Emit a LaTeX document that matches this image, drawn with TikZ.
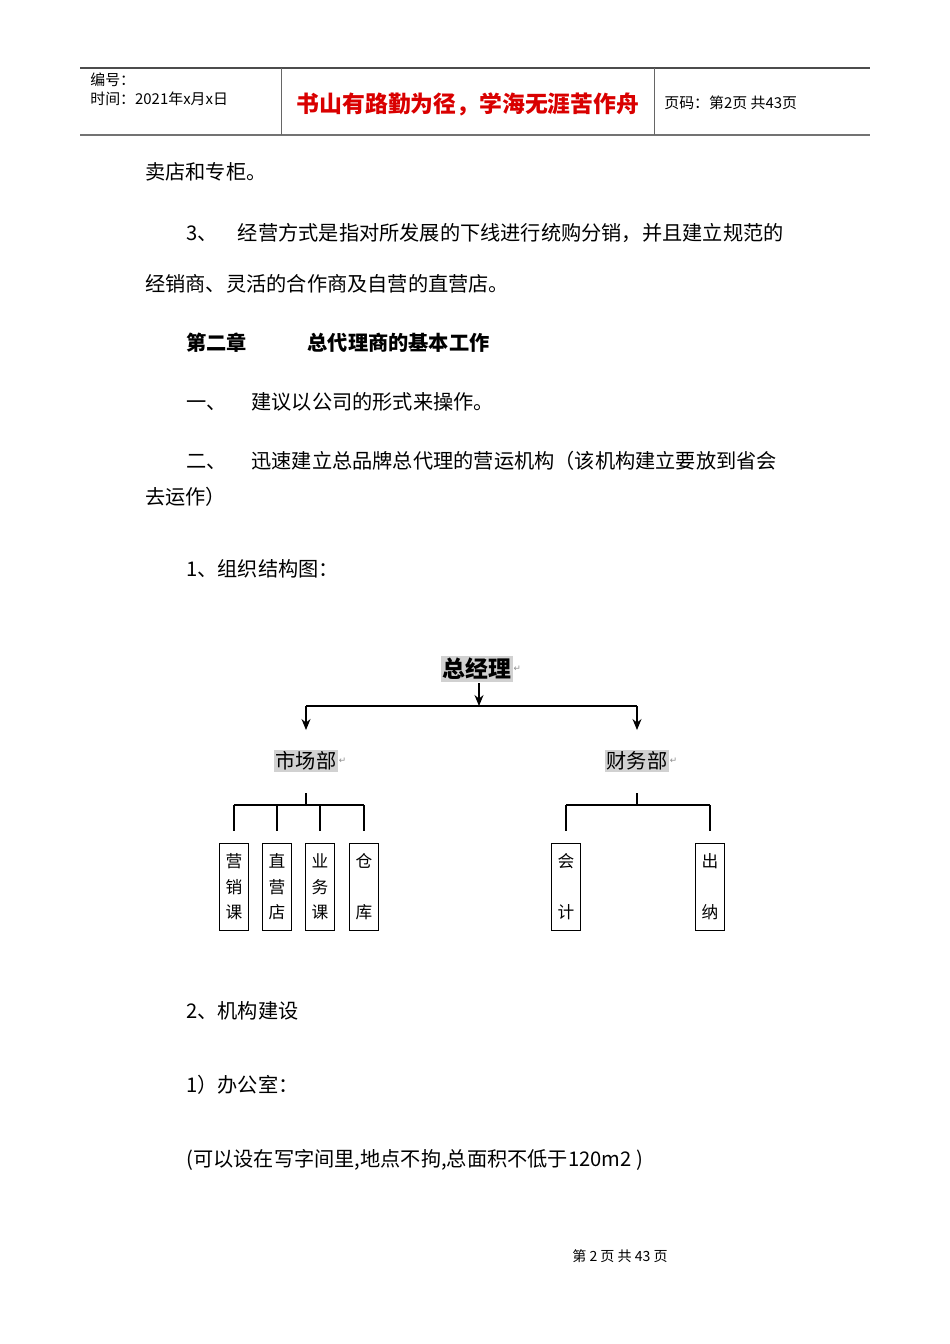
\documentclass[tikz,border=0pt]{standalone}
\usepackage{fontspec}
\setmainfont{Noto Sans CJK SC}
\newfontfamily\symfont{DejaVu Sans}
\usetikzlibrary{arrows.meta}
\tikzset{
  body/.style={anchor=west, font=\fontsize{11.5}{14}\selectfont, inner sep=0pt},
  head/.style={anchor=west, font=\fontsize{8.5}{10}\selectfont, inner sep=0pt},
  dept/.style={fill=black!18, inner sep=1pt, font=\fontsize{11.5}{14}\selectfont},
  unitbox/.style={draw, line width=0.6pt, minimum width=5.8mm, minimum height=17.4mm,
    inner sep=0pt, align=center, font=\fontsize{9.5}{14.5}\selectfont},
  link/.style={line width=0.6pt},
  down/.style={link, -{Stealth[length=2.2mm,width=1.8mm]}},
}
\newcommand{\ret}{{\color{black!45}\symfont\fontsize{5}{5}\selectfont ↵}}
\begin{document}
\begin{tikzpicture}[x=0.2mm,y=-0.2mm]
\useasboundingbox (0,0) rectangle (950,1344);

% header table
\draw[line width=0.6pt, black!70] (80,68) -- (870,68);
\draw[line width=1.4pt, black!55] (80,135) -- (870,135);
\draw[line width=0.5pt, black!60] (281,68) -- (281,135) (654,68) -- (654,135);
\node[head] (no) at (90,80) {编号：};
\node[head] (date) at (90,99) {时间：2021年x月x日};
\node[font=\fontsize{13}{15}\selectfont\bfseries, text=red!85!black, inner sep=0pt] (motto) at (468,104) {书山有路勤为径，学海无涯苦作舟};
\node[head] (page) at (664,103) {页码：第2页\ 共43页};

% text above the chart
\node[body] (t1) at (145,172) {卖店和专柜。};
\node[body] (t2) at (186,233) {3、\quad 经营方式是指对所发展的下线进行统购分销，并且建立规范的};
\node[body] (t3) at (145,284) {经销商、灵活的合作商及自营的直营店。};
\node[body, font=\fontsize{11.5}{14}\selectfont\bfseries] (t4) at (186,343) {第二章\qquad\quad 总代理商的基本工作};
\node[body] (t5) at (186,402) {一、\quad\ 建议以公司的形式来操作。};
\node[body] (t6) at (186,461) {二、\quad\ 迅速建立总品牌总代理的营运机构（该机构建立要放到省会};
\node[body] (t7) at (145,497) {去运作）};
\node[body] (t8) at (186,569) {1、组织结构图：};

% chart
\node[dept, font=\fontsize{13}{15}\selectfont\bfseries] (gm) at (477,669) {总经理};
\node[anchor=west, inner sep=0pt] at (gm.east) {\ret};
\node[dept] (mkt) at (306,761) {市场部};
\node[anchor=west, inner sep=0pt] at (mkt.east) {\ret};
\node[dept] (fin) at (637,761) {财务部};
\node[anchor=west, inner sep=0pt] at (fin.east) {\ret};

\coordinate (split) at (479,706);
\coordinate (gmfoot) at (479,683);
\coordinate (lsplit) at (306,706);
\coordinate (rsplit) at (637,706);
\draw[down] (gmfoot) -- (split);
\draw[link] (lsplit) -- (rsplit);
\draw[down] (lsplit) -- (306,730);
\draw[down] (rsplit) -- (637,730);

\node[unitbox] (u1) at (234,887) {营\\销\\课};
\node[unitbox] (u2) at (277,887) {直\\营\\店};
\node[unitbox] (u3) at (320,887) {业\\务\\课};
\node[unitbox] (u4) at (364,887) {仓\\ \\库};
\node[unitbox] (u5) at (566,887) {会\\ \\计};
\node[unitbox] (u6) at (710,887) {出\\ \\纳};

\draw[link] (mkt.south |- 0,793) -- (306,805);
\draw[link] (234,805) -- (364,805);
\foreach \u in {u1,u2,u3,u4}
  \draw[link] (\u.north |- 0,805) -- (\u.north |- 0,831);
\draw[link] (fin.south |- 0,793) -- (637,805);
\draw[link] (566,805) -- (710,805);
\foreach \u in {u5,u6}
  \draw[link] (\u.north |- 0,805) -- (\u.north |- 0,831);

% text below the chart
\node[body] (t9) at (186,1011) {2、机构建设};
\node[body] (t10) at (186,1085) {1）办公室：};
\node[body] (t11) at (186,1160) {(可以设在写字间里,地点不拘,总面积不低于120m2 )};
\node[font=\fontsize{8}{10}\selectfont, inner sep=0pt] (foot) at (620,1256) {第\ 2\ 页\ 共\ 43\ 页};
\end{tikzpicture}
\end{document}
